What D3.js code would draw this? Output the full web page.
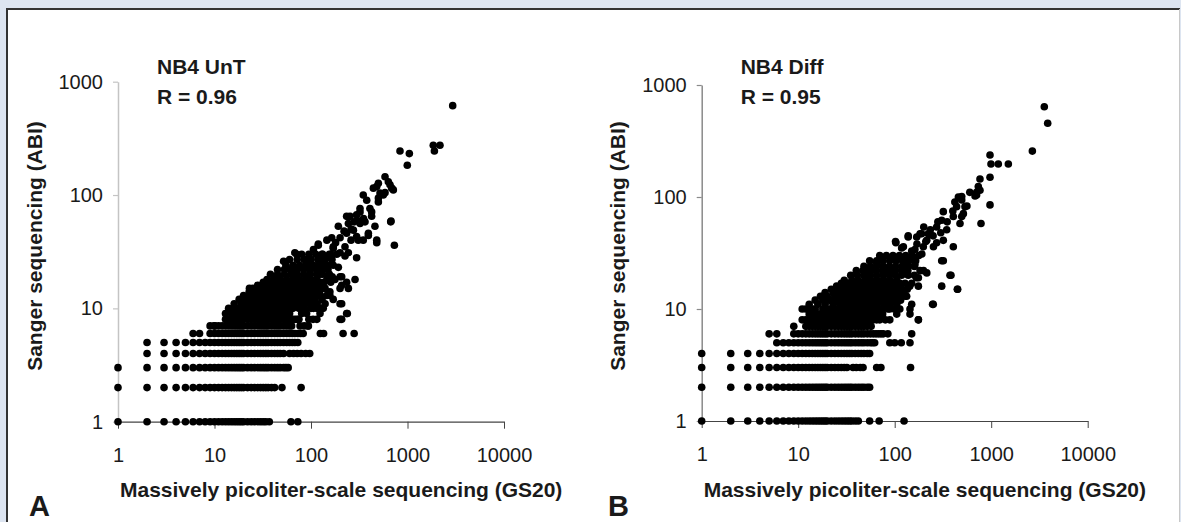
<!DOCTYPE html>
<head>
  <meta charset="utf-8">
  <style>
    body { margin: 0; background: #dde5f1; }
    svg text { font-family: "Liberation Sans", Arial, sans-serif; fill: #1a1a1a; }
    svg .tick text { font-size: 20px; }
    svg .title { font-size: 21px; font-weight: bold; }
    svg .letter { font-size: 29px; font-weight: bold; }
  </style>
</head>
<body>
<script src="https://cdn.jsdelivr.net/npm/d3@7"></script>
<script>
// tick values
var xTicks = [1, 10, 100, 1000, 10000];
var yTicks = [1, 10, 100, 1000];

// panel texts
var panelLetters = ["A", "B"];
var panelNames = ["NB4 UnT", "NB4 Diff"];
var panelR = ["R = 0.96", "R = 0.95"];
var xTitle = "Massively picoliter-scale sequencing (GS20)";
var yTitle = "Sanger sequencing (ABI)";

// NB4 UnT: Sanger counts come in rows (one y value, many GS20 counts)
var untRowY = [1, 2, 3, 4, 5, 6, 7, 8, 9, 10, 11, 12, 13, 14, 15, 16, 17, 18, 20, 22, 24, 27, 30];
var untRowX = [
  [1,2,3,4,5,6,7,8,9,10,11,12,13,14,15,16,17,18,19,20,22,24,26,28,30,32,34,37,62,73],
  [1,2,3,4,5,6,7,8,9,10,11,12,13,14,15,16,17,18,19,20,22,24,26,28,30,32,34,36,39,42,50,79],
  [1,2,3,4,5,6,7,8,9,10,11,12,13,14,15,16,17,18,19,20,22,24,26,28,30,32,34,36,39,42,45,48,52,55,58],
  [2,3,4,5,6,7,8,9,10,11,12,13,14,15,16,17,18,19,20,22,24,26,28,30,32,34,36,39,42,45,48,52,60,66,72,79,88,97],
  [2,3,4,5,6,7,8,9,10,11,12,13,14,15,16,17,18,19,20,22,24,26,28,30,32,34,36,39,42,45,48,52,56,60,64,68,73],
  [6,7,9,10,11,12,13,14,15,16,17,18,19,20,22,24,26,28,30,32,34,36,39,42,45,48,52,56,60,64,68,73,78,83,125,135,215,280],
  [9,10,11,12,13,14,15,16,17,18,19,20,22,24,26,28,30,32,34,36,39,42,45,48,52,56,60,63,77,85,93],
  [13,14,15,16,17,18,19,20,22,24,26,28,30,32,34,36,39,42,45,48,52,56,60,64,68,72,75,95,105],
  [15,16,17,18,19,20,22,24,26,28,30,32,34,36,39,42,45,48,52,56,60,80,90],
  [14,16,19,22,25,29,33,38,44,50,57,65,75,86,100,115],
  [16,19,22,25,29,33,38,44,50,57,66,75,86,100,116,140],
  [18,21,24,28,32,37,42,48,55,63,72,83,95,110,130],
  [20,23,27,31,36,41,47,54,62,71,82,94,108,125,145],
  [23,26,30,35,40,46,53,61,70,80,92,106,122],
  [25,29,34,39,45,52,60,69,79,91,105,121,140],
  [28,33,38,44,51,59,68,78,90,104,120],
  [32,37,43,50,58,67,77,89,102,118,136,160],
  [35,41,48,56,65,75,87,100,115],
  [38,45,53,62,72,84,98,114,132,155],
  [45,53,62,72,84,98,114,130,150],
  [55,65,76,88,102,118,136],
  [60,72,85,100,118,140,165],
  [80,95,112,132,155,185]
];
// NB4 UnT: the scattered points [GS20, ABI]
var untScatter = [
  [2940,615],[1850,275],[2170,275],[1900,245],[836,245],[1045,232],[995,183],
  [585,145],[633,131],[499,127],[659,123],[480,119],[713,111],[686,115],[443,115],[585,105],[519,104],[561,100],[348,100],[378,90],[499,94],[499,87],
  [322,76],[408,76],[425,71],[322,71],[297,67],[254,65],[234,65],[425,65],[244,64],[363,58],[670,58],[675,59],[322,56],[244,56],[460,53],[192,53],[275,49],[393,46],[234,46],[393,44],[297,43],[164,42],[480,40],[348,40],[309,40],[146,40],[480,38],[119,37],[731,36],[119,36],
  [170,35],[225,35],[170,34],[106,33],[244,31],[200,31],[68,31],[71,30],[225,29],[297,28],[146,28],[90,27],[119,27],[52,26],[90,26],[124,26],
  [170,24],[192,23],[77,23],[98,22],[61,22],[124,20],[66,20],[71,19],[166,19],[200,19],[208,19],[42,18],[90,18],[146,18],[177,18],[286,18],[52,17],[124,17],[234,17],[208,16],
  [200,15],[134,15],[71,15],[244,15],[23,15],[35,15],[157,14],[90,14],[56,14],[44,14],[35,14],[23,14],[30,14],[157,13],[115,13],[30,13],
  [25,12],[52,12],[170,12],[41,11],[66,11],[208,11],[200,11],[32,10],[83,10],[106,10],[134,10],[129,10],[20,10],[27,10],[17,10],
  [234,9],[124,9],[238,9],[13,9],[200,8],[208,8],[115,8],[94,7],[10,7],
  [150,24],[105,24],[130,30],[160,30],[180,38],[200,42],[260,50],[280,58],[350,62],[300,60],[220,48],[260,40]
];

// NB4 Diff rows
var diffRowY = [1, 2, 3, 4, 5, 6, 7, 8, 9, 10, 11, 12, 13, 14, 15, 16, 17, 18, 20, 22, 24, 27, 30];
var diffRowX = [
  [1,2,3,4,5,6,7,8,9,10,11,12,13,14,15,16,17,18,19,20,22,24,26,28,30,32,34,36,39,42,55,69,125],
  [1,2,3,4,5,6,7,8,9,10,11,12,13,14,15,16,17,18,19,20,22,24,26,28,30,32,34,36,39,42,45,48,52,55],
  [1,2,3,4,5,6,7,8,9,10,11,12,13,14,15,16,17,18,19,20,22,24,26,28,30,32,37,40,44,47,65,72,146],
  [1,2,3,4,5,6,7,8,9,10,11,12,13,14,15,16,17,18,19,20,22,24,26,28,30,32,34,36,39,42,45,48,52,55],
  [6,7,8,9,10,11,12,13,14,15,16,17,18,19,20,22,24,26,28,30,32,34,36,39,42,45,48,52,56,59,62,89,100,117,144],
  [5,6,9,10,11,12,13,14,15,16,17,18,19,20,22,24,26,28,30,32,34,36,39,42,45,48,52,56,60,64,68,72,76,85,150],
  [9,12,13,14,15,16,17,18,19,20,22,24,26,28,30,32,34,36,39,42,45,48,52,57],
  [11,12,13,14,15,16,17,18,19,20,22,24,26,28,30,32,34,36,39,42,45,48,52,56,60,65,70,80,89,176],
  [13,14,15,16,17,18,19,20,22,24,26,28,30,32,34,36,39,42,45,48,52,56,60,65,75,144],
  [12,15,18,21,25,29,34,40,46,54,63,73,85,99,113],
  [13,16,19,23,27,31,36,42,49,57,66,77,90,105],
  [15,18,21,25,29,34,40,46,54,63,73,85,99,115],
  [17,20,24,28,33,38,44,51,60,70,81,94,110,128],
  [19,23,27,31,36,42,49,57,66,77,90,105,122],
  [22,26,30,35,41,48,56,65,75,88,102,118,135],
  [25,29,34,40,46,54,63,73,85,99,115],
  [28,33,38,44,51,60,70,81,94,110,128,150],
  [30,36,42,49,57,66,77,90,105],
  [35,41,48,56,65,76,88,102,118,138,160],
  [40,47,55,64,75,87,101,118,137],
  [48,56,65,76,88,102,119,138,160],
  [55,65,76,89,104,121,140,165],
  [70,82,96,112,130,152,178]
];
var diffScatter = [
  [3550,640],[3850,455],[2670,257],[972,237],[995,197],[1185,197],[1505,197],[972,150],[765,145],[735,124],[706,110],[765,115],[706,104],[680,102],[972,85],[560,83],[495,94],[457,100],[495,101],[438,82],[535,82],[784,58],
  [319,74],[515,71],[405,67],[495,67],[475,58],[307,62],[272,54],[200,54],[346,51],[234,51],[223,47],[190,47],[232,46],[183,47],[138,45],[138,44],[169,44],[215,41],[319,41],[102,40],[272,39],[103,39],[252,36],[405,36],[123,36],[198,36],[118,35],[162,34],
  [191,31],[157,29],[134,27],[307,27],[319,27],[128,26],[66,26],[65,26],[162,25],[183,22],[199,22],[215,21],[97,21],[76,21],[123,21],[383,20],[374,20],[52,20],[176,19],[168,19],[76,18],[113,17],[307,16],[176,16],[89,16],[70,16],[51,16],[143,16],[449,15],[446,15],
  [37,14],[105,14],[65,14],[18,13],[133,13],[22,12],[55,12],[40,12],[251,11],[247,11],[150,11],[11,10],[14,10],[144,10],[89,10],[47,10],[34,10],[29,10],[23,10],[65,9],[105,9],[25,9],[20,9],[14,9],[176,8],
  [150,33],[170,38],[210,40],[250,45],[300,48],[280,60],[350,60],[400,75],[420,90],[600,110]
];

// panel frames in pixels
var panels = [
  { left: 118, top: 81.7, width: 386, height: 340, yAxisColor: "#c4c4c4",
    rowY: untRowY, rowX: untRowX, scatter: untScatter, letterX: 29, ytitleX: 42 },
  { left: 701.7, top: 85, width: 386, height: 336, yAxisColor: "#8a8a8a",
    rowY: diffRowY, rowX: diffRowX, scatter: diffScatter, letterX: 608, ytitleX: 625 }
];

var svg = d3.select("body").append("svg")
    .attr("width", 1181)
    .attr("height", 522);

// background and framed white panel
svg.append("rect").attr("width", 1181).attr("height", 522).attr("fill", "#dde5f1");
svg.append("rect").attr("x", 7).attr("y", 9).attr("width", 1172).attr("height", 520).attr("fill", "#fff");
svg.append("line").attr("x1", 6).attr("y1", 9).attr("x2", 1180).attr("y2", 9)
    .style("stroke", "#333").style("stroke-width", 2);
svg.append("line").attr("x1", 7).attr("y1", 8).attr("x2", 7).attr("y2", 522)
    .style("stroke", "#333").style("stroke-width", 2);
svg.append("line").attr("x1", 1179.5).attr("y1", 9).attr("x2", 1179.5).attr("y2", 522)
    .style("stroke", "#c8c8c8").style("stroke-width", 1);

panels.forEach(function (p, i) {
  var g = svg.append("g")
      .attr("transform", "translate(" + p.left + "," + p.top + ")");

  var x = d3.scaleLog().domain([1, 10000]).range([0, p.width]);
  var y = d3.scaleLog().domain([1, 1000]).range([p.height, 0]);

  // x axis
  var xa = g.append("g")
      .attr("transform", "translate(0," + p.height + ")")
      .call(d3.axisBottom(x).tickValues(xTicks).tickFormat(d3.format("d"))
        .tickSize(7).tickSizeOuter(0).tickPadding(19));
  xa.select(".domain").style("stroke", "#444").style("stroke-width", 1.2);
  xa.selectAll(".tick line").style("stroke", "#444");

  // y axis
  var ya = g.append("g")
      .call(d3.axisLeft(y).tickValues(yTicks).tickFormat(d3.format("d"))
        .tickSize(5).tickSizeOuter(0).tickPadding(10));
  ya.select(".domain").style("stroke", p.yAxisColor).style("stroke-width", 1.5);
  ya.selectAll(".tick line").style("stroke", p.yAxisColor).style("stroke-width", 1.2);

  svg.selectAll(".tick text").style("fill", "#1a1a1a");

  // points: rows first, then the scattered ones
  var pts = [];
  p.rowY.forEach(function (yv, r) {
    p.rowX[r].forEach(function (xv) { pts.push([xv, yv]); });
  });
  p.scatter.forEach(function (d) { pts.push(d); });

  g.selectAll("circle.pt")
    .data(pts)
    .enter().append("circle")
      .classed("pt", true)
      .attr("cx", function (d) { return x(d[0]); })
      .attr("cy", function (d) { return y(d[1]); })
      .attr("r", 3.8)
      .style("fill", "#000");

  // titles
  svg.append("text").classed("title", true)
      .attr("x", p.left + 39).attr("y", 74).text(panelNames[i]);
  svg.append("text").classed("title", true)
      .attr("x", p.left + 39).attr("y", 104).text(panelR[i]);

  svg.append("text").classed("title", true)
      .attr("x", p.left + 2).attr("y", 497).text(xTitle);

  svg.append("text").classed("title", true)
      .attr("transform", "translate(" + p.ytitleX + ",246) rotate(-90)")
      .style("text-anchor", "middle")
      .text(yTitle);

  svg.append("text").classed("letter", true)
      .attr("x", p.letterX).attr("y", 516)
      .text(panelLetters[i]);
});
</script>
</body>
</html>
